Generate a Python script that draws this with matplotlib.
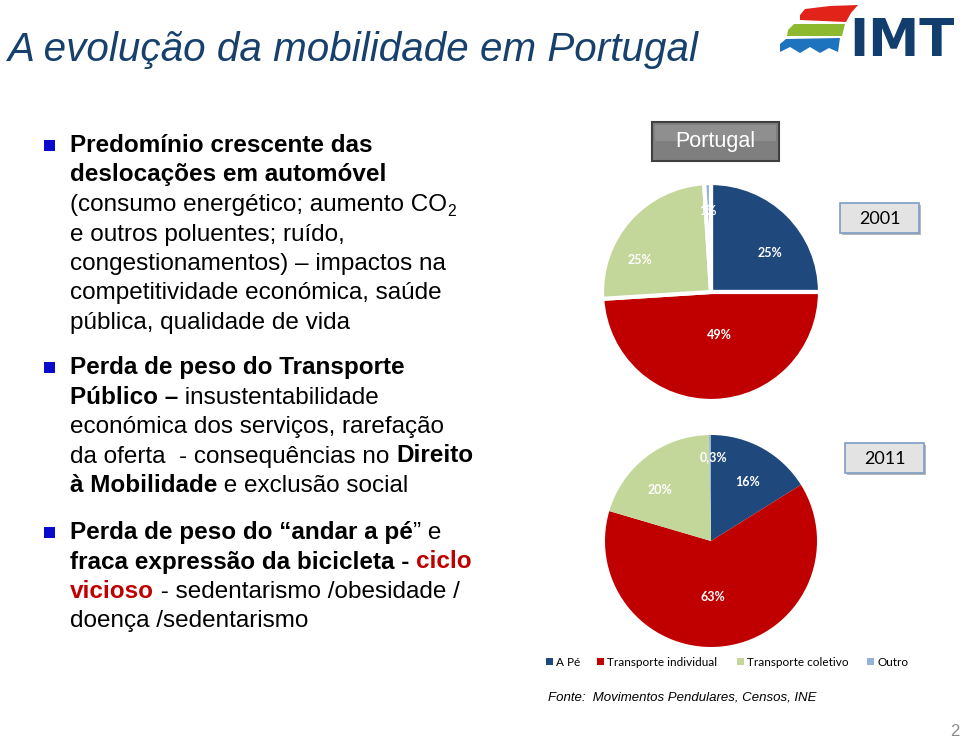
import matplotlib
matplotlib.use('Agg')
import matplotlib.pyplot as plt
from matplotlib.patches import Rectangle, Polygon

W, H = 960, 738

# pie data
categories = ['A Pé', 'Transporte individual', 'Transporte coletivo', 'Outro']
share_2001 = [25, 49, 25, 1]
share_2011 = [16, 63, 20, 0.3]
labels_2001 = ['25%', '49%', '25%', '1%']
labels_2011 = ['16%', '63%', '20%', '0,3%']
colors = ['#1F497D', '#C00000', '#C4D79B', '#95B3D7']

# where the percent labels sit, in units of the pie radius
label_pos_2001 = [(0.54, 0.36), (0.08, -0.39), (-0.65, 0.29), (-0.03, 0.74)]
label_pos_2011 = [(0.34, 0.56), (0.02, -0.53), (-0.48, 0.48), (0.02, 0.79)]

title = 'A evolução da mobilidade em Portugal'
source = 'Fonte:  Movimentos Pendulares, Censos, INE'

B, N, R, S = 'bold', 'normal', 'red', 'sub'
bullets = [
    [[('Predomínio crescente das', B)],
     [('deslocações em automóvel', B)],
     [('(consumo energético; aumento CO', N), ('2', S)],
     [('e outros poluentes; ruído,', N)],
     [('congestionamentos) – impactos na', N)],
     [('competitividade económica, saúde', N)],
     [('pública, qualidade de vida', N)]],
    [[('Perda de peso do Transporte', B)],
     [('Público –', B), (' insustentabilidade', N)],
     [('económica dos serviços, rarefação', N)],
     [('da oferta  - consequências no ', N), ('Direito', B)],
     [('à Mobilidade', B), (' e exclusão social', N)]],
    [[('Perda de peso do “andar a pé', B), ('” e', N)],
     [('fraca expressão da bicicleta - ', B), ('ciclo', R)],
     [('vicioso', R), (' - sedentarismo /obesidade /', N)],
     [('doença /sedentarismo', N)]],
]
bullet_top = [145, 367, 532]
line_gap = 29.5

fig = plt.figure(figsize=(W / 100, H / 100), dpi=100)
bg = fig.add_axes([0, 0, 1, 1])
bg.set_xlim(0, W)
bg.set_ylim(H, 0)
bg.axis('off')
renderer = fig.canvas.get_renderer()

body_font = 'Liberation Sans'
body_size = 17.5


def text_width(s, **kw):
    a = bg.text(0, 0, s + '|', **kw)
    b = bg.text(0, 0, '|', **kw)
    w = a.get_window_extent(renderer).width - b.get_window_extent(renderer).width
    a.remove()
    b.remove()
    return w


def rich_line(x, y, parts):
    for txt, kind in parts:
        kw = dict(family=body_font, fontsize=body_size, color='black',
                  fontweight='normal')
        dy = 0
        if kind == B:
            kw['fontweight'] = 'bold'
        elif kind == R:
            kw['fontweight'] = 'bold'
            kw['color'] = '#C00000'
        elif kind == S:
            kw['fontsize'] = body_size * 0.65
            dy = 5
        bg.text(x, y + dy, txt, va='baseline', ha='left', **kw)
        x += text_width(txt, **kw)


for top, lines in zip(bullet_top, bullets):
    bg.add_patch(Rectangle((44, top - 5), 11, 11, color='#0A0ACC', lw=0))
    for i, parts in enumerate(lines):
        rich_line(70, top + 7 + i * line_gap, parts)

# title
bg.text(8, 61, title, family='Liberation Sans', style='italic', fontsize=29.1,
        color='#17406D', va='baseline', ha='left')

# logo
bg.add_patch(Polygon([(800, 15), (805, 9), (830, 6), (858, 5), (851, 13),
                      (846, 22), (800, 20)],
                     closed=True, color='#E2231A', lw=0))
bg.add_patch(Polygon([(788, 30), (794, 24), (845, 24), (842, 36), (787, 36)],
                     closed=True, color='#8DB92E', lw=0))
bg.add_patch(Polygon([(780, 44), (786, 39), (840, 38), (838, 52), (829, 48),
                      (820, 53), (810, 47), (800, 53), (790, 47), (780, 52)],
                     closed=True, color='#1E73BE', lw=0))
bg.text(902, 56, 'IMT', family='DejaVu Sans', fontweight='bold', fontsize=37,
        color='#123E6E', ha='center', va='baseline')

# Portugal header box
bg.add_patch(Rectangle((652, 122), 127, 39, facecolor='#7F7F7F',
                       edgecolor='#3F3F3F', lw=1.5))
bg.add_patch(Rectangle((655, 125), 121, 16, facecolor='#8F8F8F', lw=0))
bg.text(715.5, 142, 'Portugal', family='Liberation Sans', fontsize=15.5,
        color='white', ha='center', va='center')

# year boxes
for (x0, y0), year in [((840, 203), '2001'), ((845, 443), '2011')]:
    bg.add_patch(Rectangle((x0 + 2, y0 + 2), 79, 30, facecolor='#B8B8B8', lw=0))
    bg.add_patch(Rectangle((x0, y0), 79, 30, facecolor='#E3E3E3',
                           edgecolor='#7F9DC6', lw=1.2))
    bg.text(x0 + 39.5, y0 + 16, year, family='Lato', fontsize=13,
            color='black', ha='center', va='center')


def draw_pie(cx, cy, r, values, labels, pos, gap):
    ax = fig.add_axes([(cx - r) / W, 1 - (cy + r) / H, 2 * r / W, 2 * r / H])
    ax.pie(values, colors=colors, startangle=90, counterclock=False,
           normalize=True,
           wedgeprops=dict(edgecolor='white', linewidth=gap) if gap else None)
    ax.set_xlim(-1, 1)
    ax.set_ylim(-1, 1)
    for lab, (dx, dy) in zip(labels, pos):
        ax.text(dx, dy, lab, family='Lato', fontweight='bold', fontsize=9,
                color='white', ha='center', va='center')


draw_pie(711, 292, 109, share_2001, labels_2001, label_pos_2001, 3)
draw_pie(711, 541, 106, share_2011, labels_2011, label_pos_2011, 0)

# legend
lx = [546, 597, 737, 867]
for x, c, name in zip(lx, colors, categories):
    bg.add_patch(Rectangle((x, 658), 7, 7, color=c, lw=0))
    bg.text(x + 10, 662, name, family='Lato', fontsize=8.5, color='black',
            ha='left', va='center')

bg.text(548, 697, source, family='Liberation Sans', style='italic',
        fontsize=9.5, color='black', ha='left', va='center')

bg.text(950, 736, '2', family='Liberation Sans', fontsize=12, color='#8C8C8C',
        ha='left', va='baseline')

fig.savefig('out.png', dpi=100)
